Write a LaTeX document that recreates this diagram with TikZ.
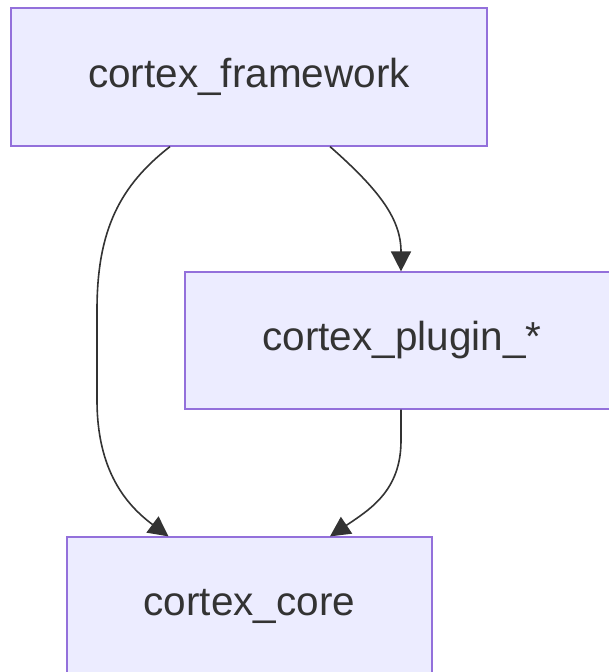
\documentclass[tikz,border=0pt]{standalone}
\usepackage{fontspec}
\setmainfont{Liberation Sans}
\usetikzlibrary{arrows.meta}
\definecolor{boxfill}{HTML}{ECECFF}
\definecolor{boxline}{HTML}{9370DB}
\definecolor{ink}{HTML}{333333}
\begin{document}
\begin{tikzpicture}[x=1pt,y=-1pt,
  module/.style={draw=boxline,fill=boxfill,line width=1.2pt,rectangle,
    inner sep=0pt,text=ink,font=\fontsize{40.5}{48}\selectfont},
  edge/.style={draw=ink,line width=1.6pt,
    -{Triangle[length=20pt,width=20pt]}}]
  \useasboundingbox (0,0) rectangle (609,672);
  \fill[white] (0,0) rectangle (609,672);
  \clip (0,0) rectangle (609,672);

  % modules
  \node[module,minimum width=476pt,minimum height=138pt] (fw) at (249,77) {cortex\_framework};
  \node[module,minimum width=434pt,minimum height=137pt] (plug) at (402,340.5) {cortex\_plugin\_*};
  \node[module,minimum width=365pt,minimum height=138pt] (core) at (249.5,606) {cortex\_core};

  % dependencies
  \draw[edge] ([xshift=-79pt]fw.south)
      .. controls +(-50,39) and +(0,-80) .. (97,310)
      -- (97,400)
      .. controls +(0,70) and +(-43,-32) .. ([xshift=-81pt]core.north);
  \draw[edge] ([xshift=81pt]fw.south)
      .. controls +(50,44) and +(0,-52) .. ([xshift=-1pt]plug.north);
  \draw[edge] ([xshift=-1pt]plug.south) -- +(0,31)
      .. controls +(0,50) and +(40,-27) .. ([xshift=80.5pt]core.north);
\end{tikzpicture}
\end{document}
